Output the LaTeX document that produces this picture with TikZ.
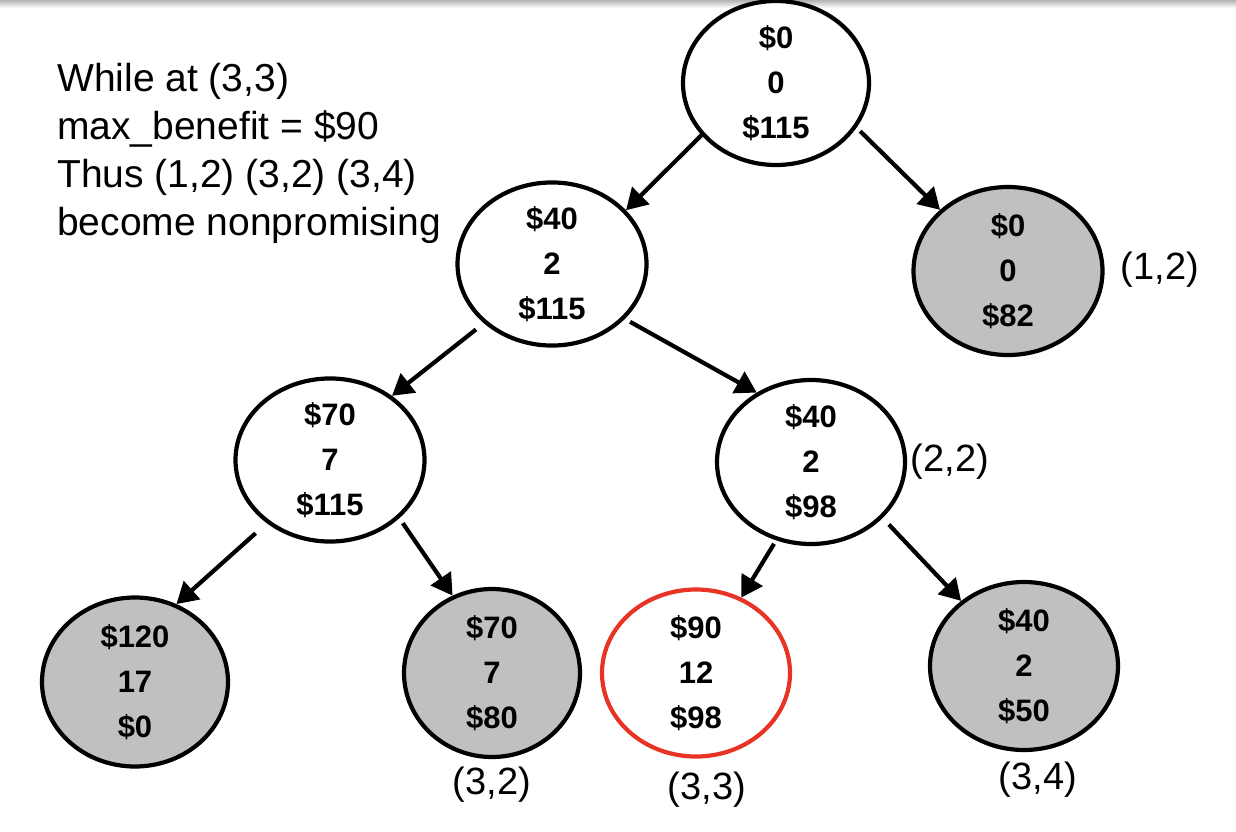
\documentclass[tikz,border=0pt]{standalone}
\usepackage{fontspec}
\setmainfont{Liberation Sans}
\usetikzlibrary{arrows.meta,shapes.geometric}
\definecolor{nodegray}{RGB}{192,192,192}
\definecolor{nodered}{RGB}{232,52,38}
\tikzset{
  tnode/.style={ellipse, draw=black, line width=4.2pt, fill=white, inner sep=0pt,
    align=center, font=\fontsize{31}{45}\selectfont\bfseries},
  pruned/.style={tnode, fill=nodegray},
  current/.style={tnode, draw=nodered},
  edge/.style={line width=4.2pt, -{Triangle[length=21pt,width=24pt]}},
  poslabel/.style={font=\fontsize{38}{46}\selectfont, inner sep=0pt},
  note/.style={font=\fontsize{39}{48}\selectfont, align=left, inner sep=0pt}
}
\begin{document}
\begin{tikzpicture}[x=1pt,y=-1pt]
\useasboundingbox (0,0) rectangle (1236,832);
\shade[top color=black!30, bottom color=white] (0,0) rectangle (1236,8);

\node[note, anchor=base west] (txt) at (57,235)
  {While at (3,3)\\max\_benefit = \$90\\Thus (1,2) (3,2) (3,4)\\become nonpromising};

\node[tnode, minimum width=186pt, minimum height=164pt] (root) at (776,83) {\$0\\0\\\$115};
\node[tnode, minimum width=189pt, minimum height=162pt] (n1) at (552,264) {\$40\\2\\\$115};
\node[pruned, minimum width=189pt, minimum height=168pt] (n2) at (1008,271) {\$0\\0\\\$82};
\node[tnode, minimum width=189pt, minimum height=160pt] (n3) at (330,460) {\$70\\7\\\$115};
\node[tnode, minimum width=188pt, minimum height=164pt] (n4) at (811,462) {\$40\\2\\\$98};
\node[pruned, minimum width=186pt, minimum height=169pt] (n5) at (135,682) {\$120\\17\\\$0};
\node[pruned, minimum width=176pt, minimum height=168pt] (n6) at (492,673) {\$70\\7\\\$80};
\node[current, minimum width=188pt, minimum height=167pt] (n7) at (696,673) {\$90\\12\\\$98};
\node[pruned, minimum width=188pt, minimum height=168pt] (n8) at (1024,666) {\$40\\2\\\$50};

\node[poslabel] (l12) at (1160,270) {(1,2)};
\node[poslabel] (l22) at (950,462) {(2,2)};
\node[poslabel] (l32) at (492,785) {(3,2)};
\node[poslabel] (l33) at (707,790) {(3,3)};
\node[poslabel] (l34) at (1038,780) {(3,4)};

\draw[edge] (root.215) -- (n1.36);
\draw[edge, shorten <=5pt] (root.-29.5) -- (n2.138);
\draw[edge, shorten <=10pt] (n1.221) -- (n3.46.5);
\draw[edge, shorten <=6pt] (n1.-37) -- (n4.128);
\draw[edge, shorten <=15pt] (n3.225) -- (n5.62.5);
\draw[edge, shorten <=6pt] (n3.-40) -- (n6.117);
\draw[edge, shorten <=4pt] (n4.246) -- (n7.59.6);
\draw[edge, shorten <=9pt] (n4.-38.7) -- (n8.134.5);
\end{tikzpicture}
\end{document}
